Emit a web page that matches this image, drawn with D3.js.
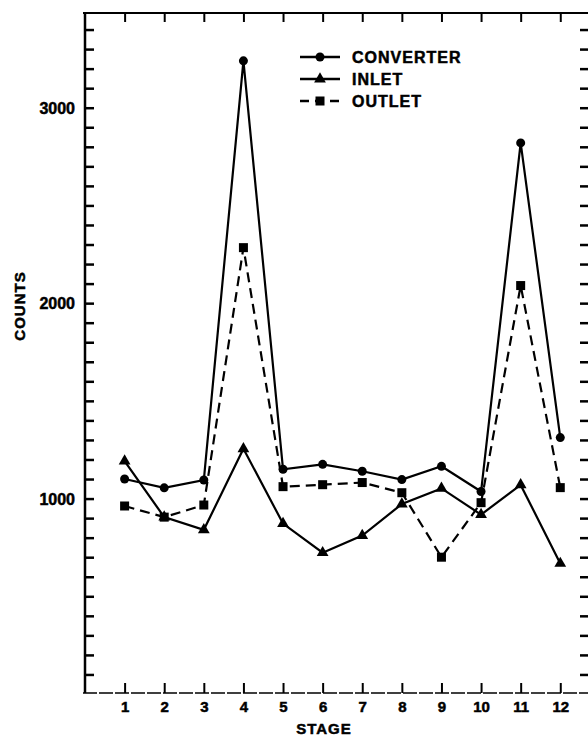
<!DOCTYPE html>
<html>
<head>
<meta charset="utf-8">
<script src="https://cdn.jsdelivr.net/npm/d3@7"></script>
<style>
  body { margin: 0; background: #fff; }
  svg text { font-family: "Liberation Sans", Arial, sans-serif; font-weight: bold; fill: #000; stroke: #000; stroke-width: 0.5px; }
</style>
</head>
<body>
<svg id="chart"></svg>
<script>
// Values
const stages = [1, 2, 3, 4, 5, 6, 7, 8, 9, 10, 11, 12];
const converter = [1100, 1055, 1095, 3240, 1150, 1175, 1140, 1097, 1165, 1036, 2820, 1312];
const inlet = [1192, 905, 840, 1255, 872, 723, 811, 972, 1052, 918, 1070, 668];
const outlet = [962, 905, 967, 2284, 1061, 1071, 1082, 1030, 700, 979, 2090, 1056];
const yLabels = [1000, 2000, 3000];
const seriesNames = ["CONVERTER", "INLET", "OUTLET"];

const width = 588;
const height = 736;
const plotLeft = 85, plotRight = 588, plotTop = 13, plotBottom = 693;

const svg = d3.select("#chart")
  .attr("width", width)
  .attr("height", height);

const x = d3.scaleLinear()
  .domain([0, 12.7])
  .range([plotLeft, plotRight]);

const y = d3.scaleLinear()
  .domain([0, 3500])
  .range([694, 10]);

// frame lines
svg.append("line")
  .attr("x1", plotLeft).attr("x2", plotLeft)
  .attr("y1", plotTop).attr("y2", plotBottom)
  .attr("stroke", "#000").attr("stroke-width", 2.5);

svg.append("line")
  .attr("x1", plotLeft - 2).attr("x2", plotRight)
  .attr("y1", plotTop).attr("y2", plotTop)
  .attr("stroke", "#000").attr("stroke-width", 2);

svg.append("line")
  .attr("x1", plotLeft - 2).attr("x2", plotRight)
  .attr("y1", plotBottom).attr("y2", plotBottom)
  .attr("stroke", "#000").attr("stroke-width", 1.6)
  .attr("stroke-dasharray", "14,2");

// left axis: minor ticks every 100, labels on thousands
const yTicks = d3.range(100, 3500, 100);
const leftAxis = svg.append("g")
  .attr("transform", `translate(${plotLeft},0)`)
  .call(d3.axisLeft(y)
    .tickValues(yTicks)
    .tickSize(-9)
    .tickPadding(10)
    .tickFormat(d => yLabels.includes(d) ? d : ""));
leftAxis.select(".domain").remove();
leftAxis.selectAll(".tick line").attr("stroke-width", 2.5);
leftAxis.selectAll(".tick text")
  .style("font-size", "16px")
  .style("font-family", null)
  .attr("dy", "0.36em");

// right axis: short inward ticks only
const rightAxis = svg.append("g")
  .attr("transform", `translate(${plotRight},0)`)
  .call(d3.axisRight(y).tickValues(yTicks).tickSize(-8).tickFormat(""));
rightAxis.select(".domain").remove();
rightAxis.selectAll(".tick line").attr("stroke-width", 2.5);

// bottom axis: upward ticks with stage labels
const bottomAxis = svg.append("g")
  .attr("transform", `translate(0,${plotBottom})`)
  .call(d3.axisBottom(x).tickValues(stages).tickSize(-10).tickPadding(8).tickFormat(d3.format("d")));
bottomAxis.select(".domain").remove();
bottomAxis.selectAll(".tick line").attr("stroke-width", 2);
bottomAxis.selectAll(".tick text")
  .style("font-size", "15px")
  .style("font-family", null);

// top axis: downward ticks
const topAxis = svg.append("g")
  .attr("transform", `translate(0,${plotTop})`)
  .call(d3.axisTop(x).tickValues(stages).tickSize(-9).tickFormat(""));
topAxis.select(".domain").remove();
topAxis.selectAll(".tick line").attr("stroke-width", 2);

// axis titles
svg.append("text")
  .attr("x", 324)
  .attr("y", 734)
  .attr("text-anchor", "middle")
  .style("font-size", "15px")
  .style("letter-spacing", "1px")
  .text("STAGE");

svg.append("text")
  .attr("transform", "translate(25,306) rotate(-90)")
  .attr("text-anchor", "middle")
  .style("font-size", "15px")
  .style("letter-spacing", "1px")
  .text("COUNTS");

// series
const line = d3.line()
  .x((d, i) => x(stages[i]))
  .y(d => y(d));

const series = [
  { name: seriesNames[0], values: converter, dash: null, marker: "circle" },
  { name: seriesNames[1], values: inlet, dash: null, marker: "triangle" },
  { name: seriesNames[2], values: outlet, dash: "10,6", marker: "square" }
];

function drawMarker(g, type, cx, cy) {
  if (type === "circle") {
    g.append("circle").attr("cx", cx).attr("cy", cy).attr("r", 4.5).attr("fill", "#000");
  } else if (type === "triangle") {
    g.append("path")
      .attr("d", d3.symbol(d3.symbolTriangle, 60)())
      .attr("transform", `translate(${cx},${cy})`)
      .attr("fill", "#000");
  } else {
    g.append("rect")
      .attr("x", cx - 4.5).attr("y", cy - 4.5)
      .attr("width", 9).attr("height", 9)
      .attr("fill", "#000");
  }
}

series.forEach(s => {
  const g = svg.append("g");
  g.append("path")
    .datum(s.values)
    .attr("d", line)
    .attr("fill", "none")
    .attr("stroke", "#000")
    .attr("stroke-width", 2.2)
    .attr("stroke-dasharray", s.dash);
  s.values.forEach((v, i) => drawMarker(g, s.marker, x(stages[i]), y(v)));
});

// legend
const legend = svg.append("g").attr("transform", "translate(300,57)");
series.forEach((s, i) => {
  const row = legend.append("g").attr("transform", `translate(0,${i * 22})`);
  row.append("line")
    .attr("x1", 0).attr("x2", 40)
    .attr("y1", 0).attr("y2", 0)
    .attr("stroke", "#000")
    .attr("stroke-width", 2.5)
    .attr("stroke-dasharray", s.dash ? "9,6" : null);
  drawMarker(row, s.marker, 20, 0);
  row.append("text")
    .attr("x", 52)
    .attr("y", 0)
    .attr("dy", "0.36em")
    .style("font-size", "16px")
    .style("letter-spacing", "1px")
    .text(s.name);
});
</script>
</body>
</html>
